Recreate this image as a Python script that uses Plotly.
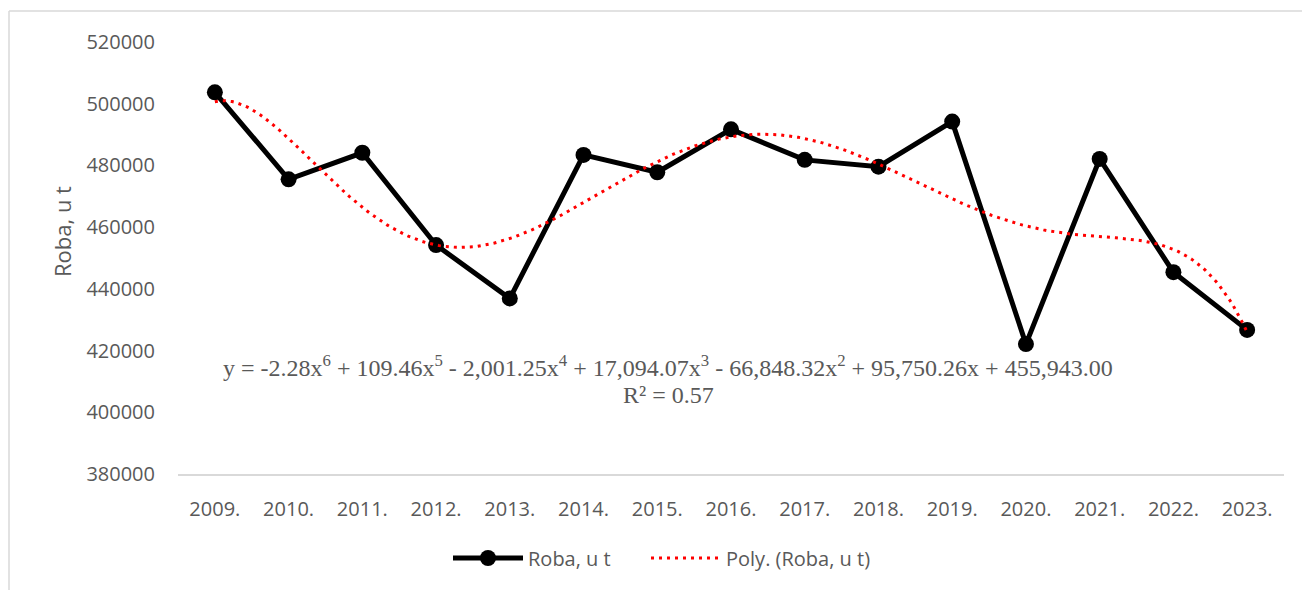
import numpy as np
import plotly.graph_objects as go

# ---- data ----
years = ["2009.", "2010.", "2011.", "2012.", "2013.", "2014.", "2015.", "2016.",
         "2017.", "2018.", "2019.", "2020.", "2021.", "2022.", "2023."]
roba = [503700, 475500, 484100, 454200, 436900, 483400, 477800, 491700,
        481800, 479600, 494200, 422100, 482100, 445400, 426700]
series_name = "Roba, u t"
trend_name = "Poly. (Roba, u t)"
y_ticks = [380000, 400000, 420000, 440000, 460000, 480000, 500000, 520000]
equation = ("y = -2.28x<sup>6</sup> + 109.46x<sup>5</sup> - 2,001.25x<sup>4</sup> + "
            "17,094.07x<sup>3</sup> - 66,848.32x<sup>2</sup> + 95,750.26x + 455,943.00")
r2_text = "R² = 0.57"

# ---- layout geometry ----
W, H = 1302, 590
L, R, T, B = 178, 18, 42, 116
PW, PH = W - L - R, H - T - B


def px(xp):
    return (xp - L) / PW


def py(yp):
    return (H - B - yp) / PH


x = np.arange(1, len(years) + 1)
# 6th-order polynomial trendline (as in the original chart)
coef = np.polyfit(x, roba, 6)
xs = np.linspace(1, len(years), 300)
ys = np.polyval(coef, xs)

grey = "#595959"
fig = go.Figure()
fig.add_trace(go.Scatter(
    x=x, y=roba, mode="lines+markers", name=series_name, legend="legend",
    line=dict(color="black", width=5),
    marker=dict(color="black", size=16),
))
fig.add_trace(go.Scatter(
    x=xs, y=ys, mode="lines", name=trend_name, legend="legend2",
    line=dict(color="#ff0000", width=3, dash="3px,5px"),
))

leg_font = dict(family="Open Sans", size=20, color=grey)
fig.update_layout(
    width=W, height=H, autosize=False,
    margin=dict(l=L, r=R, t=T, b=B),
    plot_bgcolor="white", paper_bgcolor="white",
    font=dict(family="Open Sans", size=20, color=grey),
    showlegend=True,
    legend=dict(orientation="h", x=px(448), xanchor="left", y=py(558), yanchor="middle",
                font=leg_font, itemwidth=70),
    legend2=dict(orientation="h", x=px(646), xanchor="left", y=py(558), yanchor="middle",
                 font=leg_font, itemwidth=70),
    xaxis=dict(range=[0.5, len(years) + 0.5], tickmode="array", tickvals=list(x),
               ticktext=years, showgrid=False, zeroline=False, showline=True,
               linecolor="#d9d9d9", linewidth=2, ticks="", ticklabelstandoff=16,
               tickfont=dict(family="Open Sans", size=20, color=grey)),
    yaxis=dict(range=[380000, 520000], tickmode="array", tickvals=y_ticks,
               tickformat="d", showgrid=False, zeroline=False, showline=False,
               ticks="", ticklabelstandoff=22,
               tickfont=dict(family="Open Sans", size=20, color=grey)),
    shapes=[
        dict(type="line", xref="paper", yref="paper", x0=px(9), x1=px(W + 5),
             y0=py(11), y1=py(11), line=dict(color="#d9d9d9", width=1.5)),
        dict(type="line", xref="paper", yref="paper", x0=px(9), x1=px(9),
             y0=py(11), y1=py(H + 5), line=dict(color="#d9d9d9", width=1.5)),
    ],
    annotations=[
        dict(text=series_name, xref="paper", yref="paper", x=px(62), y=py(232),
             textangle=-90, showarrow=False, xanchor="center", yanchor="middle",
             font=dict(family="Open Sans", size=22, color=grey)),
        dict(text=equation, xref="paper", yref="paper", x=px(668), y=py(366),
             showarrow=False, xanchor="center", yanchor="middle",
             font=dict(family="Liberation Serif", size=24, color=grey)),
        dict(text=r2_text, xref="paper", yref="paper", x=px(668), y=py(395),
             showarrow=False, xanchor="center", yanchor="middle",
             font=dict(family="Liberation Serif", size=24, color=grey)),
    ],
)

fig.write_html("out.html", config={"displayModeBar": False},
               post_script="document.body.style.margin='0px';")
